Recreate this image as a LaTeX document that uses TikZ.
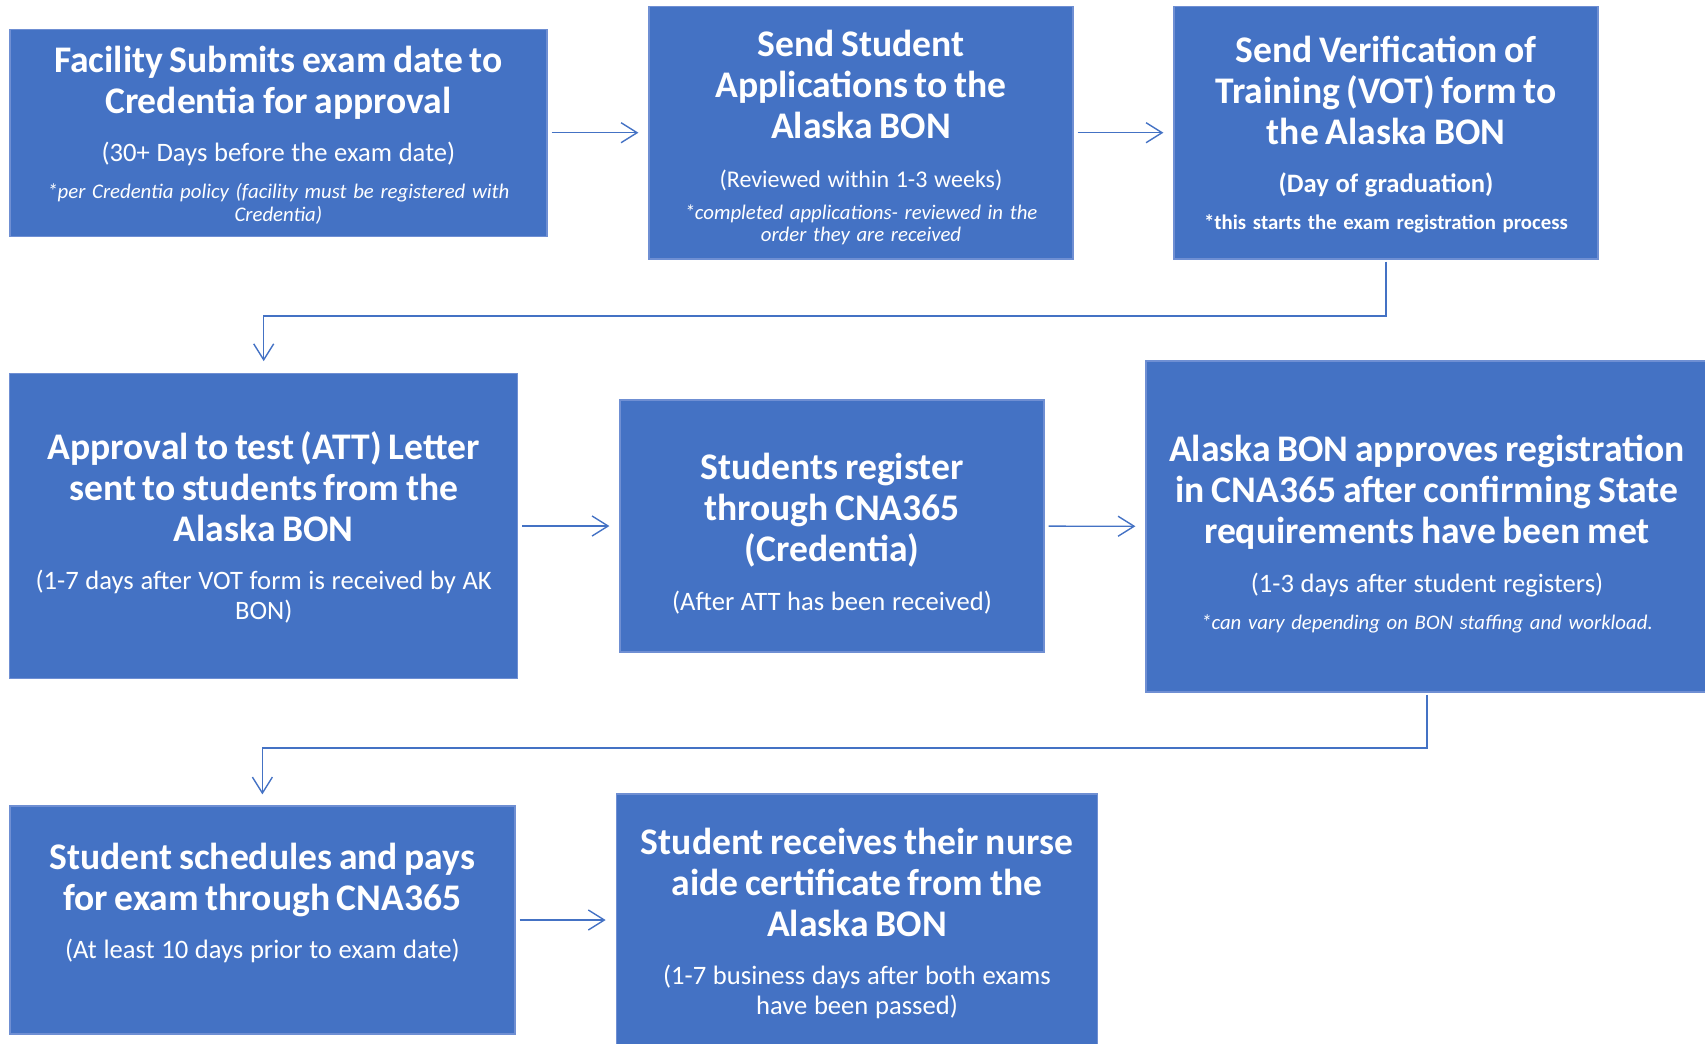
\documentclass[tikz,border=0pt]{standalone}
\usepackage{fontspec}
\setmainfont{Carlito}
\usepackage{tikz}
\usetikzlibrary{arrows.meta}
\usetikzlibrary{positioning}
\usetikzlibrary{calc}
\definecolor{boxblue}{HTML}{4472C4}
\definecolor{edgeblue}{HTML}{6F8FD3}
\tikzset{
  stepbox/.style = {rectangle, fill=boxblue, draw=edgeblue, line width=0.6pt,
    text=white, align=center, inner sep=0pt},
  flow/.style = {draw=boxblue, line width=0.7pt,
    -{Straight Barb[length=8pt,width=10pt]}, shorten <=2pt, shorten >=5pt}
}
\newcommand\headtxt[1]{{\bfseries\fontsize{18.8}{20.5}\selectfont #1\par}}
\newcommand\subtxt[2][13.3]{\vspace{9.5pt}{\fontsize{#1}{14.7}\selectfont #2\par}}
\newcommand\notetxt[2][7pt]{\vspace{#1}{\itshape\fontsize{10.4}{11.4}\selectfont #2\par}}
\newcommand\lift[1]{\raisebox{#1}{\vphantom{Sd}}}

\begin{document}
\begin{tikzpicture}[x=0.5pt,y=-0.5pt]
\useasboundingbox (0,0) rectangle (1705,1044);

% first row
\node [stepbox, minimum width=268.5pt, minimum height=103.5pt, text width=264pt]
  (fac) at (278.4,132.7) {%
  \headtxt{\lift{2.2pt}Facility Submits exam date to\\Credentia for approval}
  \subtxt{(30+ Days before the exam date)}
  \notetxt{*per Credentia policy (facility must be registered with\\Credentia)}};
\node [stepbox, minimum width=212pt, minimum height=126.25pt, text width=208pt]
  (app) at (861,132.7) {%
  \headtxt{\lift{5.1pt}Send Student\\Applications to the\\Alaska BON}
  \subtxt[12]{(Reviewed within 1-3 weeks)}
  \notetxt[4.5pt]{*completed applications- reviewed in the\\order they are received}};
\node [stepbox, minimum width=212pt, minimum height=126.25pt, text width=208pt]
  (vot) at (1386,132.7) {%
  \headtxt{\lift{2pt}Send Verification of\\Training (VOT) form to\\the Alaska BON}
  \subtxt{\bfseries (Day of graduation)}
  \notetxt{\upshape\bfseries *this starts the exam registration process}};

% second row
\node [stepbox, minimum width=254pt, minimum height=152.25pt, text width=250pt]
  (att) at (263.7,526) {%
  \headtxt{\lift{2pt}Approval to test (ATT) Letter\\sent to students from the\\Alaska BON}
  \subtxt{(1-7 days after VOT form is received by AK\\BON)}};
\node [stepbox, minimum width=212pt, minimum height=126pt, text width=208pt]
  (reg) at (832,526) {%
  \headtxt{\lift{7.6pt}Students register\\through CNA365\\(Credentia)}
  \subtxt{(After ATT has been received)}};
\node [stepbox, minimum width=281pt, minimum height=165.5pt, text width=278pt]
  (ok) at (1427,526.5) {%
  \headtxt{\lift{7.6pt}Alaska BON approves registration\\in CNA365 after confirming State\\requirements have been met}
  \subtxt{(1-3 days after student registers)}
  \notetxt{*can vary depending on BON staffing and workload.}};

% third row
\node [stepbox, minimum width=252.5pt, minimum height=114pt, text width=248pt]
  (pay) at (262.4,920) {%
  \headtxt{Student schedules and pays\\for exam through CNA365}
  \subtxt{(At least 10 days prior to exam date)}\vspace{17pt}};
\node [stepbox, minimum width=240.75pt, minimum height=126pt, text width=236pt]
  (cert) at (857,920) {%
  \headtxt{\lift{3.3pt}Student receives their nurse\\aide certificate from the\\Alaska BON}
  \subtxt{(1-7 business days after both exams\\have been passed)}};

\coordinate (turnA) at (0,316);
\coordinate (turnB) at (0,748);

\draw[flow] (fac) -- (app);
\draw[flow] (app) -- (vot);
\draw[flow, shorten <=1pt, shorten >=6pt] (vot.south) -- (vot.south |- turnA) -| (att.north);
\draw[flow] (att) -- (reg);
\draw[flow] (reg) -- (ok);
\draw[flow, shorten <=1pt, shorten >=5.5pt] (ok.south) -- (ok.south |- turnB) -| (pay.north);
\draw[flow] (pay) -- (cert);
\end{tikzpicture}
\end{document}
